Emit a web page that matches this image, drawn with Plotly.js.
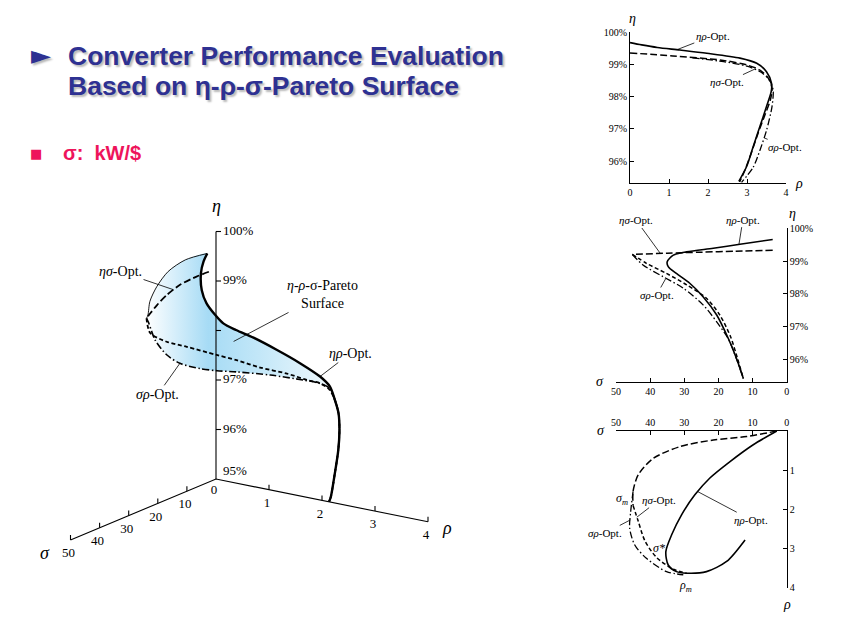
<!DOCTYPE html>
<html><head><meta charset="utf-8">
<script src="https://cdn.plot.ly/plotly-3.0.1.min.js"></script>
<style>html,body{margin:0;padding:0;background:#fff;}#chart{width:842px;height:617px;}</style>
</head><body><div id="chart"></div>
<script>
// ===================== DATA =====================
// Panel A (right top): rho (kW/dm3) vs eta (%)
const A_etaRho_rho = [0, 0.3, 0.7, 1.28, 1.97, 2.82, 3.25, 3.5, 3.63, 3.62, 3.5, 3.33, 3.16, 2.99, 2.79];
const A_etaRho_eta = [99.67, 99.6, 99.52, 99.44, 99.34, 99.19, 99.03, 98.77, 98.41, 98.15, 97.69, 97.07, 96.45, 95.83, 95.37];
const A_etaSig_rho = [0, 1.1, 2.39, 2.99, 3.33, 3.55, 3.64, 3.6, 3.45, 3.28, 3.11, 2.94, 2.81];
const A_etaSig_eta = [99.35, 99.26, 99.12, 98.98, 98.82, 98.56, 98.25, 97.9, 97.4, 96.85, 96.25, 95.7, 95.35];
const A_sigRho_rho = [1.6, 2.4, 3.0, 3.35, 3.58, 3.67, 3.64, 3.5, 3.33, 3.16, 2.86];
const A_sigRho_eta = [99.2, 99.08, 98.94, 98.76, 98.5, 98.2, 97.68, 96.95, 96.33, 95.81, 95.34];

// Panel B (right middle): sigma (kW/$) vs eta (%)
const B_etaRho_sig = [4.1, 13.7, 21.5, 29.3, 33.2, 35.0, 34.7, 32.3, 28.4, 24.5, 20.5, 17.1, 14.7, 12.7];
const B_etaRho_eta = [99.66, 99.51, 99.39, 99.28, 99.18, 98.98, 98.83, 98.62, 98.32, 97.91, 97.35, 96.63, 96.02, 95.41];
const B_etaSigUp_sig = [4.1, 15, 25, 35, 45.2];
const B_etaSigUp_eta = [99.33, 99.3, 99.27, 99.24, 99.2];
const B_etaSigLo_sig = [45.2, 41.1, 35.2, 29.3, 23.5, 19.6, 16.5, 14.5, 12.7];
const B_etaSigLo_eta = [99.2, 98.93, 98.62, 98.27, 97.86, 97.35, 96.7, 96.05, 95.41];
const B_sigRho_sig = [45.2, 42.1, 36.2, 30.3, 24.5, 20.5, 17.0, 14.7, 12.7];
const B_sigRho_eta = [99.2, 98.88, 98.52, 98.17, 97.66, 97.14, 96.6, 96.0, 95.41];

// Panel C (right bottom): sigma vs rho
const C_etaRho_sig = [2.9, 9.8, 16.6, 22.5, 26.9, 30.8, 33.7, 35.4, 34.7, 32.3, 29.3, 23.5, 17.6, 12.2];
const C_etaRho_rho = [0, 0.35, 0.78, 1.2, 1.63, 2.14, 2.65, 3.08, 3.42, 3.59, 3.63, 3.59, 3.33, 2.78];
const C_etaSigUp_sig = [2.9, 11.7, 21.5, 31.3, 39.1, 43.5, 45, 45];
const C_etaSigUp_rho = [0, 0.14, 0.23, 0.4, 0.7, 1.12, 1.54, 1.9];
const C_etaSigLo_sig = [45, 43.5, 41.5, 38.1, 33.2, 29.3];
const C_etaSigLo_rho = [1.9, 2.3, 2.81, 3.23, 3.53, 3.63];
const C_sigRho_sig = [45, 45.7, 46, 44.5, 41.1, 35.2, 30.3];
const C_sigRho_rho = [1.54, 2.06, 2.48, 2.91, 3.25, 3.59, 3.67];

// 3D view (sigma, rho, eta)
const D3_etaRho_sig = [3, 7, 11, 16, 20, 24, 27, 29, 31, 34, 34.7, 30, 27, 24, 22, 19.5, 17, 14.7, 13, 12.5];
const D3_etaRho_rho = [0, 0.15, 0.32, 0.61, 0.92, 1.30, 1.62, 1.97, 2.41, 3.01, 3.49, 3.61, 3.63, 3.56, 3.52, 3.40, 3.24, 3.05, 2.88, 2.82];
const D3_etaRho_eta = [99.63, 99.60, 99.50, 99.34, 99.24, 99.19, 99.16, 99.15, 99.14, 99.10, 98.95, 98.59, 98.32, 97.96, 97.63, 97.2, 96.7, 96.14, 95.58, 95.46];
const D3_edge_sig = [3, 12, 19, 24, 28, 32.5, 33.9];
const D3_edge_rho = [0, 0.08, 0.14, 0.20, 0.29, 0.50, 0.55];
const D3_edge_eta = [99.63, 99.74, 99.69, 99.52, 99.34, 99.22, 99.20];
const D3_etaSigUp_sig = [5.0, 8.5, 14.5, 20.9, 27.0, 31.5, 33.9];
const D3_etaSigUp_rho = [0.14, 0.10, 0.11, 0.22, 0.37, 0.49, 0.55];
const D3_etaSigUp_eta = [99.34, 99.32, 99.30, 99.28, 99.26, 99.23, 99.20];
const D3_etaSigLo_sig = [33.9, 35, 35, 35, 34, 33, 32, 31, 29.5, 28, 27, 24, 22, 19.5, 17, 14.7, 13, 12.5];
const D3_etaSigLo_rho = [0.55, 0.68, 0.99, 1.37, 1.88, 2.20, 2.59, 3.04, 3.33, 3.50, 3.62, 3.56, 3.52, 3.40, 3.24, 3.05, 2.88, 2.82];
const D3_etaSigLo_eta = [99.20, 98.96, 98.85, 98.83, 98.75, 98.69, 98.60, 98.55, 98.45, 98.38, 98.26, 97.96, 97.63, 97.2, 96.7, 96.14, 95.58, 95.46];
const D3_sigRho_sig = [33.9, 34.5, 36, 37, 37, 36, 35, 34, 32, 30, 28.5, 27, 24, 22, 19.5, 17, 14.7, 13, 12.5];
const D3_sigRho_rho = [0.55, 0.62, 0.83, 1.10, 1.35, 1.68, 1.94, 2.26, 2.78, 3.29, 3.49, 3.63, 3.56, 3.52, 3.40, 3.24, 3.05, 2.88, 2.82];
const D3_sigRho_eta = [99.20, 99.15, 98.87, 98.66, 98.54, 98.48, 98.47, 98.49, 98.49, 98.45, 98.40, 98.28, 97.96, 97.63, 97.2, 96.7, 96.14, 95.58, 95.46];

// Tick values / labels
const etaTicks = [96, 97, 98, 99, 100];
const etaTickText = ['96%', '97%', '98%', '99%', '100%'];
const rhoTicks = [0, 1, 2, 3, 4];
const sigTicks = [50, 40, 30, 20, 10, 0];
const eta3Ticks = [95, 96, 97, 98, 99, 100];
const eta3Labels = ['95%', '96%', '97%', '', '99%', '100%'];
const rho3Ticks = [1, 2, 3, 4];
const sig3Ticks = [10, 20, 30, 40, 50];

// ===================== STYLE / GEOMETRY =====================
const W = 842, H = 617;
const SERIF = 'Liberation Serif, Times New Roman, serif';
const BLUE = '#2e3192', MAG = '#ee145b';
const S_SOLID = {color:'#000', width:1.6, shape:'spline', smoothing:0.8};
const S_LDASH = {color:'#000', width:1.5, dash:'7px,3px', shape:'spline', smoothing:0.8};
const S_SDASH = {color:'#000', width:1.5, dash:'4px,2.5px', shape:'spline', smoothing:0.8};
const S_DDOT = {color:'#000', width:1.3, dash:'7px,2.5px,1.5px,2.5px', shape:'spline', smoothing:0.8};
// oblique projection for the 3D view (screen pixels)
const O3 = [216, 479];
const U_RHO = [53, 10.7], U_SIG = [-2.91, 1.22], U_ETA = -49.5;
function proj(s, r, e){ return [O3[0] + U_RHO[0]*r + U_SIG[0]*s, O3[1] + U_RHO[1]*r + U_SIG[1]*s + U_ETA*(e-95)]; }
function projArr(S, R, E){ const x=[], y=[]; for(let i=0;i<S.length;i++){ const p=proj(S[i],R[i],E[i]); x.push(p[0]); y.push(p[1]); } return {x, y}; }

const traces = [];
function tr(x, y, xa, ya, line){ traces.push({type:'scatter', mode:'lines', x, y, xaxis:xa, yaxis:ya, line, hoverinfo:'skip', showlegend:false, cliponaxis:false}); }

// ---- 3D view: surface fill ----
(function(){
  const e = projArr(D3_edge_sig, D3_edge_rho, D3_edge_eta);
  const d = projArr(D3_sigRho_sig.slice(1,12), D3_sigRho_rho.slice(1,12), D3_sigRho_eta.slice(1,12));
  const r = projArr(D3_etaRho_sig.slice(0,13).reverse(), D3_etaRho_rho.slice(0,13).reverse(), D3_etaRho_eta.slice(0,13).reverse());
  traces.push({type:'scatter', mode:'lines', xaxis:'x4', yaxis:'y4', hoverinfo:'skip', showlegend:false,
    x: e.x.concat(d.x, r.x), y: e.y.concat(d.y, r.y), line:{width:0, shape:'spline', smoothing:0.8},
    fill:'toself', fillcolor:'#bfe5f8',
    fillgradient:{type:'horizontal', start:146, stop:335,
      colorscale:[[0,'#ffffff'],[0.1,'#e4f4fc'],[0.33,'#a6dbf5'],[0.6,'#c3e7f8'],[1,'#f1f9fd']]}});
})();

// ---- 3D axes ----
(function(){
  const a0 = proj(0,0,95);
  const aE = proj(0,0,100), aR = proj(0,4,95), aS = proj(50,0,95);
  tr([aS[0], a0[0], aR[0]], [aS[1], a0[1], aR[1]], 'x4', 'y4', {color:'#000', width:1.1});
  tr([a0[0], aE[0]], [a0[1], aE[1]], 'x4', 'y4', {color:'#000', width:1.1});
  const tx=[], ty=[];
  eta3Ticks.slice(1).forEach(v=>{ const p=proj(0,0,v); tx.push(p[0], p[0]+5, null); ty.push(p[1], p[1], null); });
  rho3Ticks.forEach(v=>{ const p=proj(0,v,95); tx.push(p[0], p[0], null); ty.push(p[1], p[1]-5, null); });
  sig3Ticks.forEach(v=>{ const p=proj(v,0,95); tx.push(p[0], p[0], null); ty.push(p[1], p[1]-5, null); });
  tr(tx, ty, 'x4', 'y4', {color:'#000', width:1.1});
  // tick labels
  const lx=[], ly=[], lt=[];
  eta3Ticks.forEach((v,i)=>{ if(!eta3Labels[i]) return; const p=proj(0,0,v); lx.push(p[0]+7); ly.push(p[1] - (v===95?7:0)); lt.push(eta3Labels[i]); });
  traces.push({type:'scatter', mode:'text', x:lx, y:ly, text:lt, textposition:'middle right', xaxis:'x4', yaxis:'y4',
    textfont:{family:SERIF, size:13, color:'#000'}, hoverinfo:'skip', showlegend:false, cliponaxis:false});
  const mx=[], my=[], mt=[];
  [0].concat(rho3Ticks).forEach(v=>{ const p=proj(0,v,95); mx.push(p[0]-2); my.push(p[1]+(v===0?12:14)); mt.push(String(v)); });
  sig3Ticks.forEach(v=>{ const p=proj(v,0,95); mx.push(p[0]-2); my.push(p[1]+14); mt.push(String(v)); });
  traces.push({type:'scatter', mode:'text', x:mx, y:my, text:mt, textposition:'middle center', xaxis:'x4', yaxis:'y4',
    textfont:{family:SERIF, size:13, color:'#000'}, hoverinfo:'skip', showlegend:false, cliponaxis:false});
})();

// ---- 3D curves ----
(function(){
  let p;
  p = projArr(D3_sigRho_sig, D3_sigRho_rho, D3_sigRho_eta); tr(p.x, p.y, 'x4', 'y4', Object.assign({}, S_DDOT, {width:1.6}));
  p = projArr(D3_etaSigLo_sig, D3_etaSigLo_rho, D3_etaSigLo_eta); tr(p.x, p.y, 'x4', 'y4', Object.assign({}, S_SDASH, {width:1.8}));
  p = projArr(D3_etaSigUp_sig, D3_etaSigUp_rho, D3_etaSigUp_eta); tr(p.x, p.y, 'x4', 'y4', Object.assign({}, S_LDASH, {width:1.8}));
  p = projArr(D3_edge_sig, D3_edge_rho, D3_edge_eta); tr(p.x, p.y, 'x4', 'y4', {color:'#000', width:0.9, shape:'spline', smoothing:0.8});
  p = projArr(D3_etaRho_sig, D3_etaRho_rho, D3_etaRho_eta); tr(p.x, p.y, 'x4', 'y4', {color:'#000', width:2.4, shape:'spline', smoothing:0.8});
})();

// ---- Panel A ----
tr(A_sigRho_rho, A_sigRho_eta, 'x', 'y', S_DDOT);
tr(A_etaSig_rho, A_etaSig_eta, 'x', 'y', S_LDASH);
tr(A_etaRho_rho, A_etaRho_eta, 'x', 'y', S_SOLID);
// ---- Panel B ----
tr(B_sigRho_sig, B_sigRho_eta, 'x2', 'y2', S_DDOT);
tr(B_etaSigLo_sig, B_etaSigLo_eta, 'x2', 'y2', S_SDASH);
tr(B_etaSigUp_sig, B_etaSigUp_eta, 'x2', 'y2', S_LDASH);
tr(B_etaRho_sig, B_etaRho_eta, 'x2', 'y2', S_SOLID);
// ---- Panel C ----
tr(C_sigRho_sig, C_sigRho_rho, 'x3', 'y3', S_DDOT);
tr(C_etaSigLo_sig, C_etaSigLo_rho, 'x3', 'y3', S_SDASH);
tr(C_etaSigUp_sig, C_etaSigUp_rho, 'x3', 'y3', S_LDASH);
tr(C_etaRho_sig, C_etaRho_rho, 'x3', 'y3', S_SOLID);

// ===================== LAYOUT =====================
const ax = {showgrid:false, zeroline:false, showline:true, linecolor:'#000', linewidth:1, ticks:'inside', ticklen:4,
  tickcolor:'#000', tickwidth:1, tickfont:{family:SERIF, size:10, color:'#000'}, fixedrange:true};
function dx(a,b){ return [a/W, b/W]; }
function dy(top,bot){ return [1-bot/H, 1-top/H]; }
const pct = etaTickText;

function txt(text, xpx, ypx, o){
  o = o || {};
  const font = Object.assign({family:SERIF, size:11, color:'#000000'}, o.font || {});
  return Object.assign({text, x:xpx/W, y:1-ypx/H, xref:'paper', yref:'paper', showarrow:false,
    xanchor:'center', yanchor:'middle'}, o, {font});
}
function lab(text, x, y, xr, yr, axp, ayp, size){ return {text, x, y, xref:xr, yref:yr, showarrow:true, arrowhead:0, arrowwidth:0.8,
  arrowcolor:'#000', ax:axp, ay:ayp, standoff:0, startstandoff:0, font:{family:SERIF, size:size||11, color:'#000'}}; }
function lab3(text, s, r, e, axp, ayp, size){ const p=proj(s,r,e); return lab(text, p[0], p[1], 'x4', 'y4', axp, ayp, size); }

const TF = 'Liberation Sans, Arial, sans-serif';
const SH = '2px 2px 2px rgba(0,0,0,0.28)';
const annotations = [
  txt('►', 29, 55, {xanchor:'left', font:{family:'DejaVu Sans, sans-serif', size:26, color:BLUE, shadow:SH}}),
  txt('<b>Converter Performance Evaluation</b>', 66, 56, {xanchor:'left', font:{family:TF, size:26.5, color:BLUE, shadow:SH}}),
  txt('<b>Based on η-ρ-σ-Pareto Surface</b>', 66, 86, {xanchor:'left', font:{family:TF, size:26.5, color:BLUE, shadow:SH}}),
  txt('■', 36, 154, {font:{family:'DejaVu Sans, sans-serif', size:13, color:MAG}}),
  txt('<b>σ:  kW/$</b>', 61, 153, {xanchor:'left', font:{family:'Liberation Sans, Arial, sans-serif', size:20, color:MAG}}),
  // 3D axis titles
  txt('<i>η</i>', 216, 206, {font:{size:18}}),
  txt('<i>ρ</i>', 447, 528, {font:{size:18}}),
  txt('<i>σ</i>', 45, 553, {font:{size:18}}),
  // panel axis titles
  txt('<i>η</i>', 632, 18, {font:{size:14}}),
  txt('<i>ρ</i>', 799, 183, {font:{size:14}}),
  txt('<i>η</i>', 792, 213, {font:{size:14}}),
  txt('<i>σ</i>', 600, 381, {font:{size:14}}),
  txt('<i>σ</i>', 601, 430, {font:{size:14}}),
  txt('<i>ρ</i>', 787, 604, {font:{size:14}}),
  // panel A labels
  lab('<i>ηρ</i>-Opt.', 1.2, 99.45, 'x', 'y', 36, -14),
  lab('<i>ησ</i>-Opt.', 3.2, 98.85, 'x', 'y', -28, 13),
  lab('<i>σρ</i>-Opt.', 3.44, 96.72, 'x', 'y', 21, 9),
  // panel B labels
  lab('<i>ηρ</i>-Opt.', 14, 99.5, 'x2', 'y2', 4, -25),
  lab('<i>ησ</i>-Opt.', 37, 99.23, 'x2', 'y2', -24, -33),
  lab('<i>σρ</i>-Opt.', 35.5, 98.45, 'x2', 'y2', -9, 16),
  // panel C labels
  lab('<i>ηρ</i>-Opt.', 26, 1.55, 'x3', 'y3', 53, 28),
  lab('<i>ησ</i>-Opt.', 43.9, 2.2, 'x3', 'y3', 22, -17),
  lab('<i>σρ</i>-Opt.', 45.8, 2.27, 'x3', 'y3', -25, 13),
  txt('<i>σ<sub>m</sub></i>', 622, 499, {font:{size:12, color:'#000000'}}),
  txt('<i>σ*</i>', 659, 548, {font:{size:12, color:'#000000'}}),
  txt('<i>ρ<sub>m</sub></i>', 685, 586, {font:{size:12, color:'#000000'}}),
  // 3D labels
  lab3('<i>ησ</i>-Opt.', 17.5, 0.16, 99.29, -53, -18, 14),
  lab3('<i>σρ</i>-Opt.', 37, 1.35, 98.54, -22, 31, 14),
  lab3('<i>η-ρ-</i>σ-Pareto<br>Surface', 26, 1.76, 98.8, 89, -47, 14),
  lab3('<i>ηρ</i>-Opt.', 30, 3.61, 98.59, 30, -23, 14)
];

const layout = {
  width:W, height:H, margin:{l:0, r:0, t:0, b:0}, paper_bgcolor:'#fff', plot_bgcolor:'rgba(0,0,0,0)', showlegend:false,
  xaxis: Object.assign({}, ax, {domain:dx(630,786), range:[0,4], tickvals:rhoTicks, anchor:'y'}),
  yaxis: Object.assign({}, ax, {domain:dy(32,183), range:[95.32,100], tickvals:etaTicks, ticktext:pct, anchor:'x'}),
  xaxis2: Object.assign({}, ax, {domain:dx(616,786.7), range:[50,0], tickvals:sigTicks, anchor:'y2'}),
  yaxis2: Object.assign({}, ax, {domain:dy(228.3,381.7), range:[95.31,100], tickvals:etaTicks, ticktext:pct, side:'right', anchor:'x2'}),
  xaxis3: Object.assign({}, ax, {domain:dx(616,786.7), range:[50,0], tickvals:sigTicks, side:'top', anchor:'y3'}),
  yaxis3: Object.assign({}, ax, {domain:dy(431,587.7), range:[4,0], tickvals:[1,2,3,4], side:'right', anchor:'x3'}),
  xaxis4: {domain:[0,1], range:[0,W], visible:false, fixedrange:true, anchor:'y4'},
  yaxis4: {domain:[0,1], range:[H,0], visible:false, fixedrange:true, anchor:'x4'},
  annotations
};
Plotly.newPlot('chart', traces, layout, {staticPlot:true, displayModeBar:false});
</script></body></html>
